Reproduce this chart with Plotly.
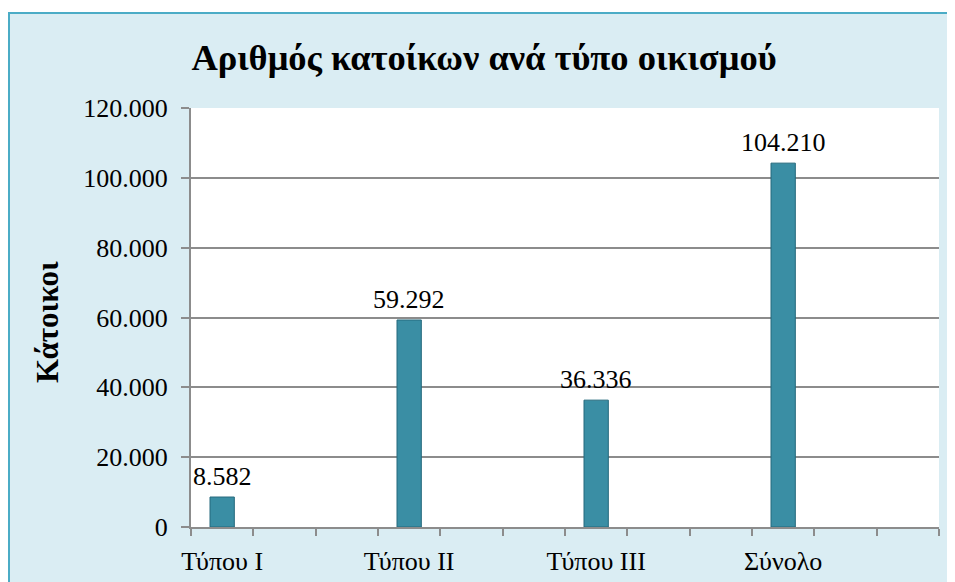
import plotly.graph_objects as go

categories = ["Τύπου I", "Τύπου II", "Τύπου III", "Σύνολο"]
values = [8582, 59292, 36336, 104210]
slot_positions = [0, 3, 6, 9]
y_ticks = [0, 20000, 40000, 60000, 80000, 100000, 120000]

OFF = 8  # browser body margin
W, H = 955 - OFF, 582 - OFF
L, R, T, B = 191 - OFF, 939 - OFF, 108 - OFF, 527 - OFF
pw, ph = R - L, B - T

def px(x):
    return (x - OFF - L) / pw

def py(y):
    return (B - (y - OFF)) / ph

FONT = "Liberation Serif"

fig = go.Figure()
fig.add_trace(go.Bar(
    x=slot_positions, y=values, width=0.39,
    marker=dict(color="#3A8EA4", line=dict(color="#24697C", width=1)),
))

annotations = []
for xv, yv in zip(slot_positions, values):
    annotations.append(dict(
        x=xv, y=yv, xref="x", yref="y", text=f"{yv:,}".replace(",", "."),
        showarrow=False, yanchor="bottom", yshift=4,
        font=dict(family=FONT, size=26, color="#000000"),
    ))
annotations.append(dict(
    x=px(47), y=py(322), xref="paper", yref="paper", text="<b>Κάτοικοι</b>",
    showarrow=False, textangle=-90, xanchor="center", yanchor="middle",
    font=dict(family=FONT, size=31, color="#000000"),
))

fig.update_layout(
    width=W, height=H,
    margin=dict(l=L, r=W - R, t=T, b=H - B, autoexpand=False),
    paper_bgcolor="#FFFFFF", plot_bgcolor="#FFFFFF",
    separators=",.",
    showlegend=False,
    title=dict(text="<b>Αριθμός κατοίκων ανά τύπο οικισμού</b>",
               x=(484 - OFF) / W, xanchor="center", xref="container",
               y=1 - (57 - OFF) / H, yanchor="middle", yref="container",
               font=dict(family=FONT, size=36.5, color="#000000")),
    shapes=[
        dict(type="rect", xref="paper", yref="paper", layer="below",
             x0=px(9), x1=px(990), y0=py(620), y1=py(13),
             fillcolor="#DAEDF3", line=dict(color="#4BACC6", width=2)),
        dict(type="rect", xref="paper", yref="paper", layer="below",
             x0=0, x1=1, y0=0, y1=1, fillcolor="#FFFFFF", line=dict(width=0)),
    ],
    annotations=annotations,
)

fig.update_xaxes(
    automargin=False,
    range=[-0.5, 11.5], tickmode="array", tickvals=slot_positions, ticktext=categories,
    ticks="", showgrid=False, zeroline=False, ticklabelstandoff=10,
    showline=True, linecolor="#8C8C8C", linewidth=2,
    tickfont=dict(family=FONT, size=26, color="#000000"),
    minor=dict(tickmode="array", tickvals=[i - 0.5 for i in range(13)],
               ticks="outside", ticklen=7, tickcolor="#8C8C8C", tickwidth=2, showgrid=False),
)
fig.update_yaxes(
    automargin=False,
    range=[0, 120000], tickmode="array", tickvals=y_ticks, tickformat=",.0f",
    ticks="outside", ticklen=8, tickcolor="#8C8C8C", tickwidth=2, ticklabelstandoff=8,
    showgrid=True, gridcolor="#8C8C8C", gridwidth=1.5, zeroline=False,
    showline=True, linecolor="#8C8C8C", linewidth=2,
    tickfont=dict(family=FONT, size=26, color="#000000"),
)

fig.write_html("out.html")
